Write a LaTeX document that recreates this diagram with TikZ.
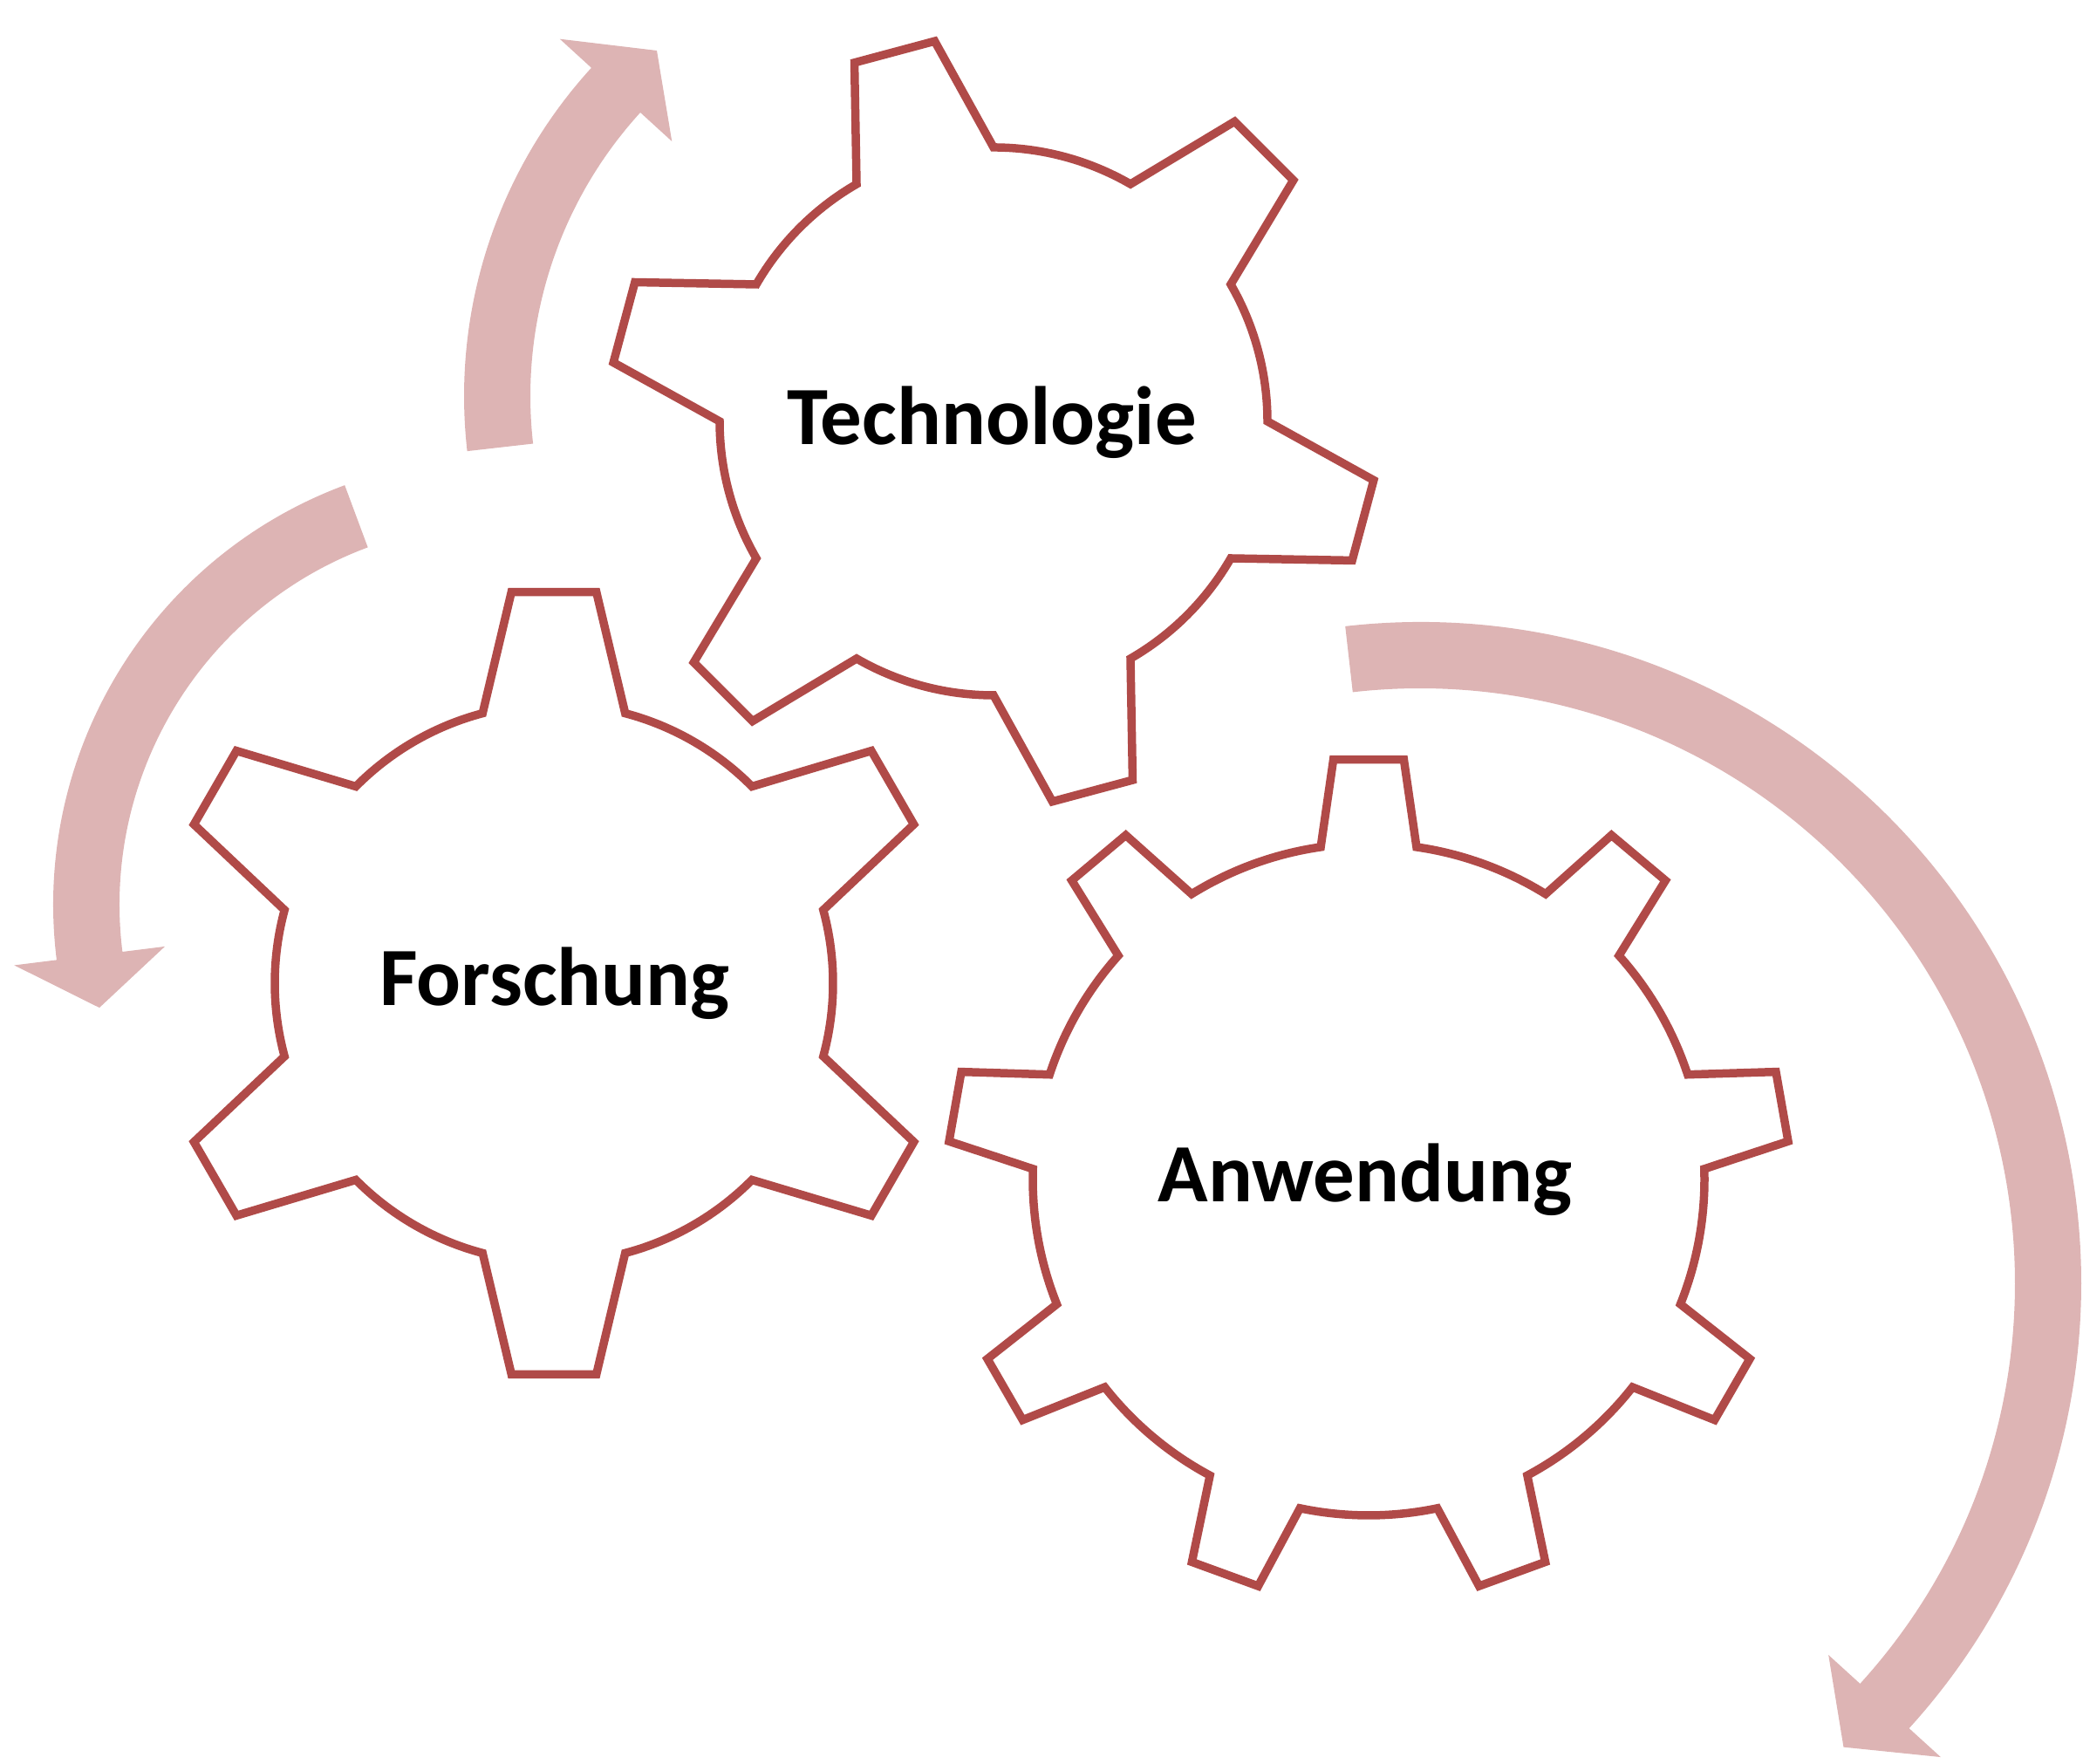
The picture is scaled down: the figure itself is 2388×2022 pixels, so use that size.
\documentclass[tikz,border=0pt]{standalone}
\usepackage{fontspec}
\setmainfont{Carlito}
\usepackage{tikz}
\pgfdeclarelayer{arrowlayer}
\pgfdeclarelayer{gearlayer}
\pgfsetlayers{arrowlayer,gearlayer,main}
\definecolor{gearred}{RGB}{176,74,72}
\definecolor{arrowpink}{RGB}{221,180,180}

% centre x, centre y, teeth, first tooth, inner r, outer r, base half angle, tip half angle
\newcommand{\gearoutline}[8]{%
  \begin{scope}[shift={(#1,#2)}]
    \draw [gearline] ({#4-#7}:#5)
      \foreach \k [evaluate=\k as \a using #4+(\k-1)*360/#3] in {1,...,#3} {
        -- ({\a-#8}:#6) -- ({\a+#8}:#6) -- ({\a+#7}:#5)
        arc[start angle=\a+#7, end angle=\a+360/#3-#7, radius=#5]
      } -- cycle;
  \end{scope}}

% centre x, centre y, mid radius, tail angle, head angle, tip angle
\newcommand{\bandarrow}[6]{%
  \begin{scope}[shift={(#1,#2)}]
    \fill [arrowpink] ({#4}:{#3+38}) arc[start angle=#4, end angle=#5, radius=#3+38]
      -- ({#5}:{#3+87}) -- ({#6}:{#3}) -- ({#5}:{#3-87}) -- ({#5}:{#3-38})
      arc[start angle=#5, end angle=#4, radius=#3-38] -- cycle;
  \end{scope}}

\begin{document}
\begin{tikzpicture}[x=0.01cm, y=0.01cm,
    gearline/.style={draw=gearred, line width=2.7pt, fill=white, line join=miter},
    gearlabel/.style={inner sep=0pt, anchor=base, font=\fontsize{27pt}{31pt}\selectfont\bfseries}]
  \useasboundingbox (0,0) rectangle (2388,2022);
  \begin{pgfonlayer}{arrowlayer}
    \bandarrow{1090}{1568}{520}{186.5}{137.6}{130.4}
    \bandarrow{574}{985}{475}{110.4}{187.1}{194.4}
    \bandarrow{1628}{551}{720}{96.5}{-42.3}{-47.6}
  \end{pgfonlayer}
  \begin{pgfonlayer}{gearlayer}
    \gearoutline{1139}{1539}{6}{45}{314}{441}{15}{6.2}
    \gearoutline{635}{895}{6}{90}{320}{451}{14.8}{6.2}
    \gearoutline{1569}{670}{9}{90}{385}{483}{8.2}{4.8}
  \end{pgfonlayer}
  \node [gearlabel] (technologie) at (1137,1512) {Technologie};
  \node [gearlabel] (forschung) at (636,869) {Forschung};
  \node [gearlabel] (anwendung) at (1565,644) {Anwendung};
\end{tikzpicture}
\end{document}
